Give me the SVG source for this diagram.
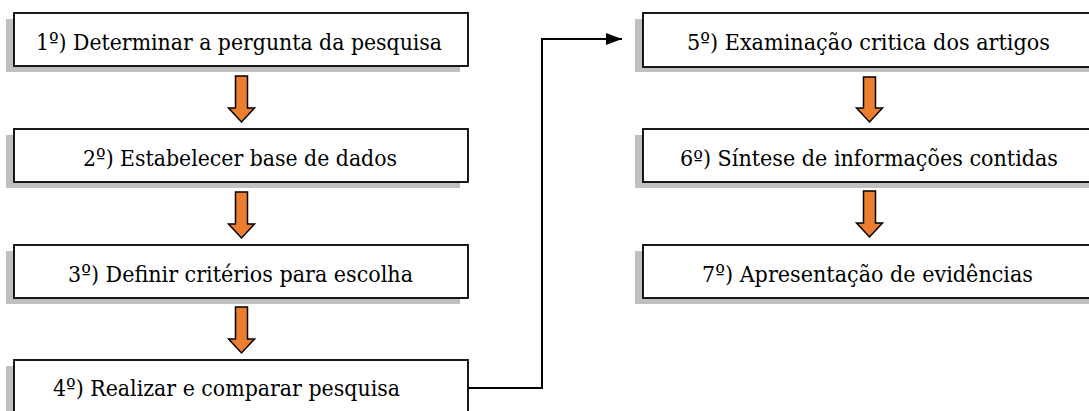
<svg xmlns="http://www.w3.org/2000/svg" width="1089" height="411" viewBox="0 0 1089 411">
<style>
.sh{fill:#c0c0c0;stroke:none}
.bx{fill:#fff;stroke:#000;stroke-width:1.8}
.tx{font-family:"DejaVu Serif",serif;font-size:23px;fill:#000}
.ar{fill:#ED7D31;stroke:#000;stroke-width:1.5;stroke-linejoin:miter}
.cn{fill:none;stroke:#000;stroke-width:2}
</style>
<defs>
<marker id="ah" markerWidth="8" markerHeight="6" refX="8" refY="3" orient="auto" markerUnits="strokeWidth">
<path d="M0,0 L8,3 L0,6 Z" fill="#000"/>
</marker>
</defs>
<rect width="1089" height="411" fill="#fff"/>
<g id="node1">
<rect class="sh" x="6" y="19" width="454" height="53"/>
<rect class="bx" x="14" y="13" width="454" height="53"/>
<text class="tx" x="36" y="50" textLength="406" lengthAdjust="spacingAndGlyphs">1º) Determinar a pergunta da pesquisa</text>
</g>
<g id="node2">
<rect class="sh" x="6" y="135" width="454" height="53"/>
<rect class="bx" x="14" y="129" width="454" height="53"/>
<text class="tx" x="83" y="166" textLength="314" lengthAdjust="spacingAndGlyphs">2º) Estabelecer base de dados</text>
</g>
<g id="node3">
<rect class="sh" x="6" y="251" width="454" height="53"/>
<rect class="bx" x="14" y="245" width="454" height="53"/>
<text class="tx" x="68" y="282" textLength="345" lengthAdjust="spacingAndGlyphs">3º) Definir critérios para escolha</text>
</g>
<g id="node4">
<rect class="sh" x="6" y="366" width="454" height="46"/>
<rect class="bx" x="14" y="360" width="454" height="52"/>
<text class="tx" x="53" y="396" textLength="347" lengthAdjust="spacingAndGlyphs">4º) Realizar e comparar pesquisa</text>
</g>
<g id="node5">
<rect class="sh" x="635" y="19" width="454" height="53"/>
<rect class="bx" x="643" y="13" width="447" height="54"/>
<text class="tx" x="687" y="50" textLength="363" lengthAdjust="spacingAndGlyphs">5º) Examinação critica dos artigos</text>
</g>
<g id="node6">
<rect class="sh" x="635" y="135" width="454" height="53"/>
<rect class="bx" x="643" y="129" width="447" height="53"/>
<text class="tx" x="680" y="166" style="font-size:22px" textLength="378" lengthAdjust="spacingAndGlyphs">6º) Síntese de informações contidas</text>
</g>
<g id="node7">
<rect class="sh" x="635" y="251" width="454" height="53"/>
<rect class="bx" x="643" y="245" width="447" height="53"/>
<text class="tx" x="702" y="282" textLength="331" lengthAdjust="spacingAndGlyphs">7º) Apresentação de evidências</text>
</g>
<g id="connectors">
<path class="ar" d="M235.5,76 H247.5 V108 H254.5 L241.5,122 L228.5,108 H235.5 Z"/>
<path class="ar" d="M235.5,192 H247.5 V224 H254.5 L241.5,238 L228.5,224 H235.5 Z"/>
<path class="ar" d="M235.5,307 H247.5 V339 H254.5 L241.5,353 L228.5,339 H235.5 Z"/>
<path class="ar" d="M863.5,77 H875.5 V108 H882.5 L869.5,122 L856.5,108 H863.5 Z"/>
<path class="ar" d="M863.5,191 H875.5 V223 H882.5 L869.5,237 L856.5,223 H863.5 Z"/>
<path class="cn" d="M468,388 H542 V39 H622" marker-end="url(#ah)"/>
</g>
</svg>
